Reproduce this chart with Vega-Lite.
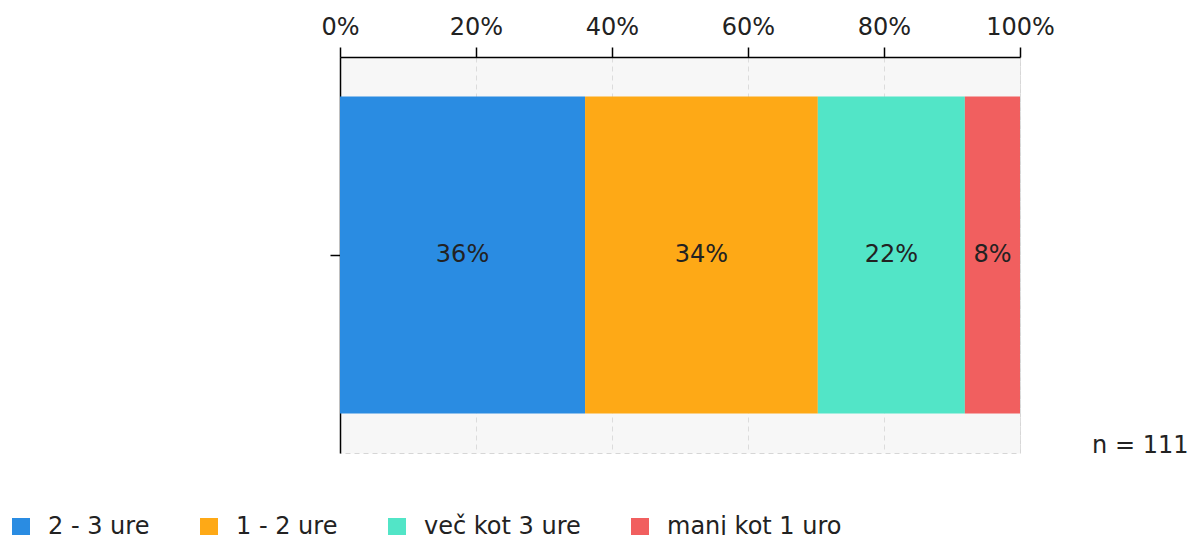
{
  "$schema": "https://vega.github.io/schema/vega-lite/v6.json",
  "width": 680,
  "height": 396,
  "autosize": {"type": "none"},
  "padding": {"left": 340, "top": 57, "right": 172, "bottom": 82},
  "background": "white",
  "config": {
    "font": "DejaVu Sans",
    "view": {"fill": "#f7f7f7", "stroke": "#d6d6d6", "strokeDash": [5, 4]}
  },
  "data": {
    "values": [
      {"q": "Q", "cat": "2 - 3 ure", "n": 40, "label": "36%", "ord": 1},
      {"q": "Q", "cat": "1 - 2 ure", "n": 38, "label": "34%", "ord": 2},
      {"q": "Q", "cat": "več kot 3 ure", "n": 24, "label": "22%", "ord": 3},
      {"q": "Q", "cat": "manj kot 1 uro", "n": 9, "label": "8%", "ord": 4}
    ]
  },
  "encoding": {
    "y": {
      "field": "q",
      "type": "nominal",
      "scale": {"paddingInner": 0.2, "paddingOuter": 0.1},
      "axis": {
        "labels": false,
        "title": null,
        "tickSize": 10,
        "tickWidth": 1.5,
        "tickColor": "#000",
        "domainColor": "#000",
        "domainWidth": 1.5,
        "grid": false
      }
    },
    "order": {"field": "ord", "type": "quantitative"}
  },
  "layer": [
    {
      "mark": {"type": "bar"},
      "encoding": {
        "x": {
          "field": "n",
          "type": "quantitative",
          "stack": "normalize",
          "scale": {"domain": [0, 1]},
          "axis": {
            "orient": "top",
            "values": [0, 0.2, 0.4, 0.6, 0.8, 1],
            "format": ".0%",
            "title": null,
            "labelFontSize": 24,
            "labelColor": "#222",
            "labelFlush": false,
            "labelOverlap": false,
            "labelPadding": 8,
            "tickSize": 10,
            "tickWidth": 1.5,
            "tickColor": "#000",
            "domainColor": "#000",
            "domainWidth": 1.5,
            "grid": true,
            "gridColor": "#dcdcdc",
            "gridDash": [5, 4]
          }
        },
        "color": {
          "field": "cat",
          "type": "nominal",
          "scale": {
            "domain": ["2 - 3 ure", "1 - 2 ure", "več kot 3 ure", "manj kot 1 uro"],
            "range": ["#2A8CE2", "#FEA916", "#52E5C7", "#F15F5F"]
          },
          "legend": {
            "orient": "none",
            "direction": "horizontal",
            "columns": 4,
            "legendX": -331,
            "legendY": 458,
            "title": null,
            "symbolType": "square",
            "symbolSize": 324,
            "symbolStrokeWidth": 0,
            "labelFontSize": 24,
            "labelColor": "#222",
            "labelLimit": 0,
            "labelOffset": 15,
            "columnPadding": 47
          }
        }
      }
    },
    {
      "mark": {"type": "text", "fontSize": 24, "color": "#222"},
      "encoding": {
        "x": {
          "field": "n",
          "type": "quantitative",
          "stack": "normalize",
          "bandPosition": 0.5,
          "axis": {
            "orient": "bottom",
            "domain": false,
            "ticks": false,
            "labels": false,
            "grid": false,
            "title": "n = 111",
            "titleFontSize": 24,
            "titleFontWeight": "normal",
            "titleColor": "#222",
            "titleAlign": "right",
            "titleBaseline": "alphabetic",
            "titleX": 848,
            "titleY": -1
          }
        },
        "text": {"field": "label"}
      }
    }
  ]
}
